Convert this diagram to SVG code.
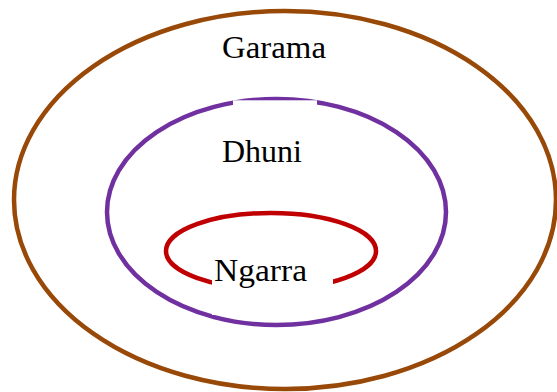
<svg xmlns="http://www.w3.org/2000/svg" width="557" height="392" viewBox="0 0 557 392">
<style>
.ring{fill:none;stroke-width:4.5}
.lbl{font-family:"Liberation Serif","DejaVu Serif",serif;font-size:32px;fill:#000}
</style>
<rect width="557" height="392" fill="#fff"/>
<g id="garama">
<ellipse class="ring" cx="285" cy="200" rx="271" ry="189" stroke="#984807"/>
<text class="lbl" x="222" y="58" textLength="104" lengthAdjust="spacingAndGlyphs">Garama</text>
</g>
<g id="dhuni">
<ellipse class="ring" cx="276.5" cy="212" rx="169.5" ry="113" stroke="#7030A0"/>
<rect x="233" y="100.3" width="84" height="80" fill="#fff"/>
<text class="lbl" x="222" y="162" textLength="80" lengthAdjust="spacingAndGlyphs">Dhuni</text>
</g>
<g id="ngarra">
<ellipse class="ring" cx="271" cy="251" rx="105" ry="38" stroke="#C00000"/>
<rect x="212" y="257" width="121" height="58" fill="#fff"/>
<text class="lbl" x="214" y="281" textLength="93" lengthAdjust="spacingAndGlyphs">Ngarra</text>
</g>
<g id="connectors"></g>
</svg>
